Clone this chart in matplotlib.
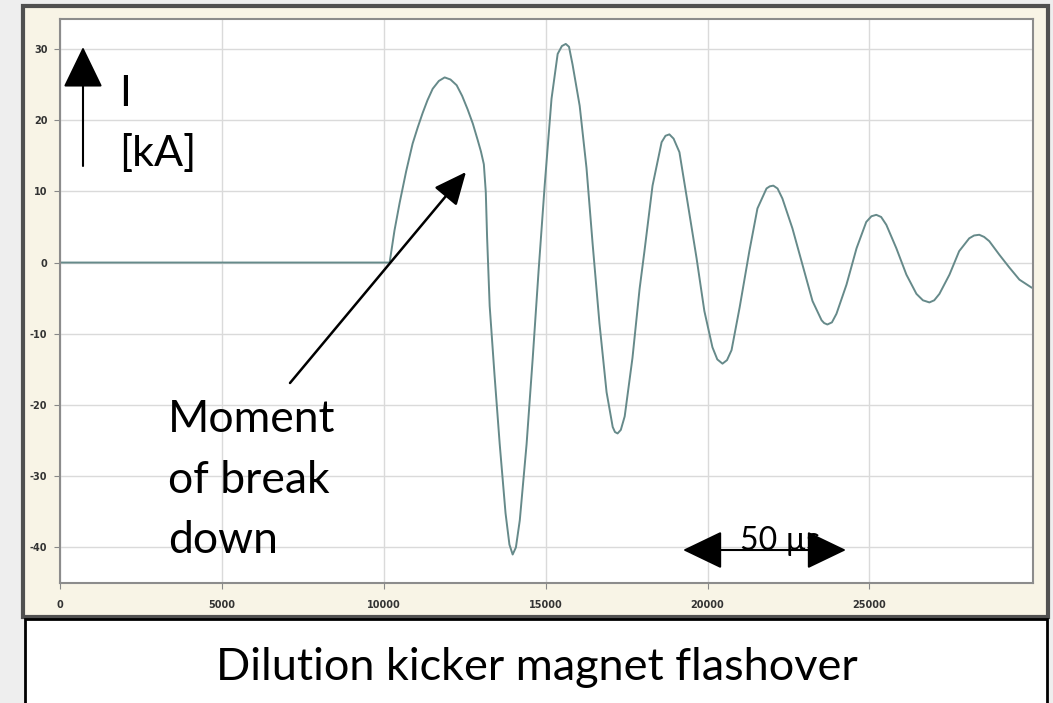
import matplotlib.pyplot as plt
from matplotlib.patches import Rectangle, FancyArrowPatch

# Current trace (time in ns, current in kA)
time_ns = [0, 10180, 10330, 10490, 10690, 10890, 11050, 11200, 11350, 11510,
           11700, 11880, 12060, 12250, 12420, 12590, 12750, 12900, 13000, 13090,
           13150, 13190, 13270, 13420, 13580, 13760, 13880, 13980, 14080, 14200,
           14410, 14600, 14780, 14970, 15180, 15370, 15500, 15620, 15720, 15830,
           16050, 16260, 16450, 16660, 16880, 17070, 17140, 17220, 17320, 17440,
           17680, 17900, 18050, 18300, 18580, 18700, 18820, 18950, 19130, 19380,
           19660, 19900, 20150, 20300, 20460, 20600, 20740, 20990, 21290, 21540,
           21820, 21920, 22030, 22160, 22310, 22620, 22930, 23240, 23520, 23600,
           23700, 23840, 23980, 24290, 24600, 24900, 25060, 25210, 25360, 25520,
           25830, 26140, 26450, 26650, 26850, 27000, 27160, 27470, 27770, 28080,
           28230, 28390, 28540, 28700, 29010, 29320, 29630, 30000]
current_ka = [0, 0, 4.5, 8.4, 12.8, 16.7, 19.0, 21.0, 22.8, 24.4,
              25.5, 26.0, 25.7, 24.9, 23.4, 21.5, 19.5, 17.2, 15.6, 13.8,
              9.9, 3.6, -6.1, -15.8, -25.5, -35.2, -39.6, -41.0, -40.0, -36.2,
              -25.5, -13.4, -1.2, 10.9, 23.0, 29.3, 30.4, 30.7, 30.3, 27.8,
              22.0, 13.3, 2.6, -8.5, -18.2, -23.1, -23.8, -24.0, -23.5, -21.6,
              -13.4, -3.7, 1.6, 10.8, 16.9, 17.8, 18.0, 17.4, 15.5, 8.5,
              0.6, -6.8, -11.9, -13.6, -14.2, -13.7, -12.3, -6.3, 1.6, 7.6,
              10.4, 10.7, 10.8, 10.4, 9.0, 4.8, -0.3, -5.4, -8.1, -8.5,
              -8.7, -8.4, -7.2, -3.1, 2.0, 5.7, 6.5, 6.7, 6.4, 5.3,
              2.0, -1.7, -4.4, -5.3, -5.6, -5.3, -4.4, -1.7, 1.6, 3.4,
              3.8, 3.9, 3.6, 3.0, 1.1, -0.7, -2.4, -3.5]

x_ticks = [0, 5000, 10000, 15000, 20000, 25000]
y_ticks = [30, 20, 10, 0, -10, -20, -30, -40]
y_labels = ["30", "20", "10", "0", "-10", "-20", "-30", "-40"]

W, H = 1053, 703
def fx(px):
    return px / W
def fy(py):
    return 1 - py / H

fonts = ['Lato', 'DejaVu Sans']

fig = plt.figure(figsize=(10.53, 7.03), dpi=100, facecolor='#eeeeee')

# cream scope frame and caption box
fig.add_artist(Rectangle((fx(23), fy(617)), (1048 - 23) / W, (617 - 6) / H,
                         transform=fig.transFigure, facecolor='#f8f4e6',
                         edgecolor='#505050', lw=3, zorder=-2))
fig.add_artist(Rectangle((fx(25), fy(706)), (1047 - 25) / W, (706 - 619) / H,
                         transform=fig.transFigure, facecolor='white',
                         edgecolor='black', lw=2, zorder=-1))

ax = fig.add_axes([fx(60), fy(583), (1033 - 60) / W, (583 - 19) / H])
ax.set_facecolor('white')
ax.plot(time_ns, current_ka, color='#668a8a', lw=1.4, solid_joinstyle='round')
ax.set_xlim(0, 30050)
ax.set_ylim(-45, 34.2)
ax.set_xticks(x_ticks)
ax.set_xticklabels([str(v) for v in x_ticks])
ax.set_yticks(y_ticks)
ax.set_yticklabels(y_labels)
ax.grid(True, color='#dadada', lw=1.0)
ax.set_axisbelow(True)
ax.tick_params(axis='both', length=4, color='#888888', labelsize=7,
               labelcolor='#333333')
ax.tick_params(axis='x', pad=8)
ax.tick_params(axis='y', pad=5)
for lab in ax.get_xticklabels() + ax.get_yticklabels():
    lab.set_fontweight('bold')
for s in ax.spines.values():
    s.set_color('#8c8c8c')
    s.set_linewidth(1.5)

# axis label arrow "I [kA]"
fig.add_artist(FancyArrowPatch((fx(83), fy(166)), (fx(83), fy(47)),
                               transform=fig.transFigure,
                               arrowstyle='-|>,head_length=2.6,head_width=1.26',
                               mutation_scale=10, color='black', lw=1.5,
                               shrinkA=0, shrinkB=0, zorder=5))
fig.text(fx(119), fy(106), "I", fontsize=31, family=fonts, zorder=5)
fig.text(fx(119), fy(166), "[kA]", fontsize=31, family=fonts, zorder=5)

# breakdown annotation
fig.add_artist(FancyArrowPatch((fx(290), fy(383)), (fx(466), fy(172)),
                               transform=fig.transFigure,
                               arrowstyle='-|>,head_length=2.0,head_width=0.9',
                               mutation_scale=10, color='black', lw=1.8,
                               shrinkA=0, shrinkB=0, zorder=5))
fig.text(fx(168), fy(432), "Moment", fontsize=32, family=fonts, zorder=5)
fig.text(fx(168), fy(493), "of break", fontsize=32, family=fonts, zorder=5)
fig.text(fx(168), fy(553), "down", fontsize=32, family=fonts, zorder=5)

# 50 us scale arrow
fig.add_artist(FancyArrowPatch((fx(683), fy(550)), (fx(846), fy(550)),
                               transform=fig.transFigure,
                               arrowstyle='<|-|>,head_length=2.5,head_width=1.2',
                               mutation_scale=10, color='black', lw=1.5,
                               shrinkA=0, shrinkB=0, zorder=5))
fig.text(fx(740), fy(550), "50 µs", fontsize=23, family=fonts, zorder=5)

# caption
fig.text(fx(537), fy(680), "Dilution kicker magnet flashover", fontsize=32.5,
         family=fonts, ha='center', zorder=5)

fig.savefig('out.png', dpi=100, facecolor=fig.get_facecolor())
